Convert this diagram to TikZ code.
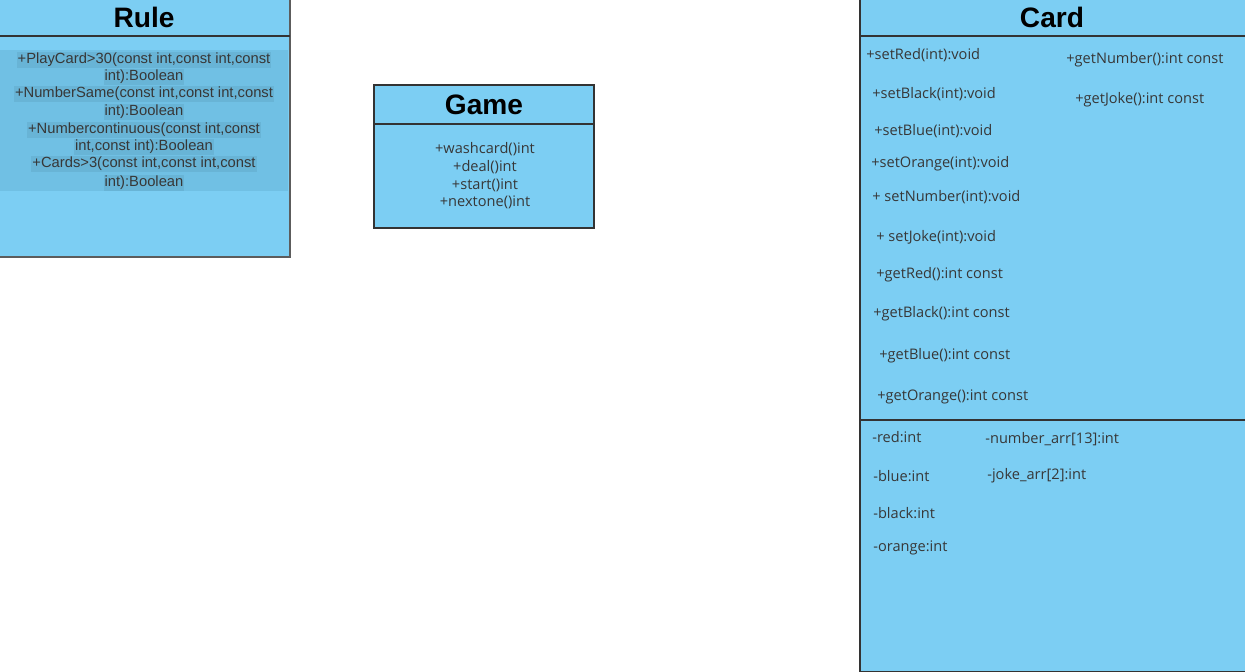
\documentclass[tikz,border=0pt]{standalone}
\usepackage{fontspec}
\setmainfont{Open Sans}
\newfontfamily\arialfont{Liberation Sans}
\usepackage{tikz}
\usetikzlibrary{positioning}
\definecolor{umlblue}{RGB}{124, 206, 243}
\definecolor{umlshade}{RGB}{112, 192, 228}
\definecolor{umlmark}{RGB}{104, 180, 214}
\definecolor{umlline}{RGB}{51, 51, 51}
\definecolor{umltext}{RGB}{55, 55, 55}

\tikzset{
    classbox/.style   = {draw=umlline, fill=umlblue, line width=0.8pt},
    classname/.style  = {font=\arialfont\bfseries\fontsize{16}{16}\selectfont, text=black},
    member/.style     = {font=\fontsize{8.3}{9}\selectfont, text=umltext, anchor=west, inner sep=0pt},
    gamemember/.style = {font=\fontsize{8.3}{9}\selectfont, text=umltext, inner sep=0pt},
    rulemember/.style = {font=\arialfont\fontsize{8.4}{9}\selectfont, text=umltext, fill=umlmark, inner sep=0.6pt},
}

\begin{document}
\begin{tikzpicture}[x=0.02cm, y=-0.02cm]
            % Frame to ensure alignment:
            \useasboundingbox                                        (   0,   0) rectangle (1245, 672);
            % Rule:
            \draw[classbox, draw=umlline!80]                         (  -5,  -5) rectangle ( 290, 257);
            \draw[umlline, line width=0.8pt]                         (  -5,  36) -- ( 290,  36);
            \fill[umlshade]                                          (   0,  50) rectangle ( 288, 191);
            \node[classname]  (rule)   at ( 144,  17) {Rule};
            \node[rulemember] (rule1a) at ( 144,  60) {+PlayCard>30(const int,const int,const};
            \node[rulemember] (rule1b) at ( 144,  77) {int):Boolean};
            \node[rulemember] (rule2a) at ( 144,  94) {+NumberSame(const int,const int,const};
            \node[rulemember] (rule2b) at ( 144, 112) {int):Boolean};
            \node[rulemember] (rule3a) at ( 144, 130) {+Numbercontinuous(const int,const};
            \node[rulemember] (rule3b) at ( 144, 147) {int,const int):Boolean};
            \node[rulemember] (rule4a) at ( 144, 164) {+Cards>3(const int,const int,const};
            \node[rulemember] (rule4b) at ( 144, 183) {int):Boolean};
            % Game:
            \draw[classbox]                                          ( 374,  85) rectangle ( 594, 228);
            \draw[umlline, line width=0.8pt]                         ( 374, 124) -- ( 594, 124);
            \node[classname]  (game)   at ( 484, 105) {Game};
            \node[gamemember] (wash)   at ( 485, 149) {+washcard()int};
            \node[gamemember] (deal)   at ( 485, 167) {+deal()int};
            \node[gamemember] (start)  at ( 485, 185) {+start()int};
            \node[gamemember] (next)   at ( 485, 202) {+nextone()int};
            % Card:
            \draw[classbox]                                          ( 860,  -5) rectangle (1250, 672);
            \draw[umlline, line width=1pt]                           ( 860,  36) -- (1250,  36);
            \draw[umlline, line width=1pt]                           ( 860, 420) -- (1250, 420);
            \node[classname]  (card)   at (1052,  17) {Card};
            \node[member]     (setred) at ( 866,  55) {+setRed(int):void};
            \node[member]     (setblk) at ( 872,  94) {+setBlack(int):void};
            \node[member]     (setblu) at ( 874, 131) {+setBlue(int):void};
            \node[member]     (setorg) at ( 871, 164) {+setOrange(int):void};
            \node[member]     (setnum) at ( 872, 197) {+ setNumber(int):void};
            \node[member]     (setjok) at ( 876, 237) {+ setJoke(int):void};
            \node[member]     (getred) at ( 876, 275) {+getRed():int const};
            \node[member]     (getblk) at ( 873, 314) {+getBlack():int const};
            \node[member]     (getblu) at ( 879, 356) {+getBlue():int const};
            \node[member]     (getorg) at ( 877, 397) {+getOrange():int const};
            \node[member]     (getnum) at (1066,  60) {+getNumber():int const};
            \node[member]     (getjok) at (1075, 100) {+getJoke():int const};
            \node[member]     (red)    at ( 872, 437) {-red:int};
            \node[member]     (blue)   at ( 873, 476) {-blue:int};
            \node[member]     (black)  at ( 873, 513) {-black:int};
            \node[member]     (orange) at ( 873, 548) {-orange:int};
            \node[member]     (numarr) at ( 985, 439) {-number\_arr[13]:int};
            \node[member]     (jokarr) at ( 987, 476) {-joke\_arr[2]:int};
        \end{tikzpicture}
\end{document}
